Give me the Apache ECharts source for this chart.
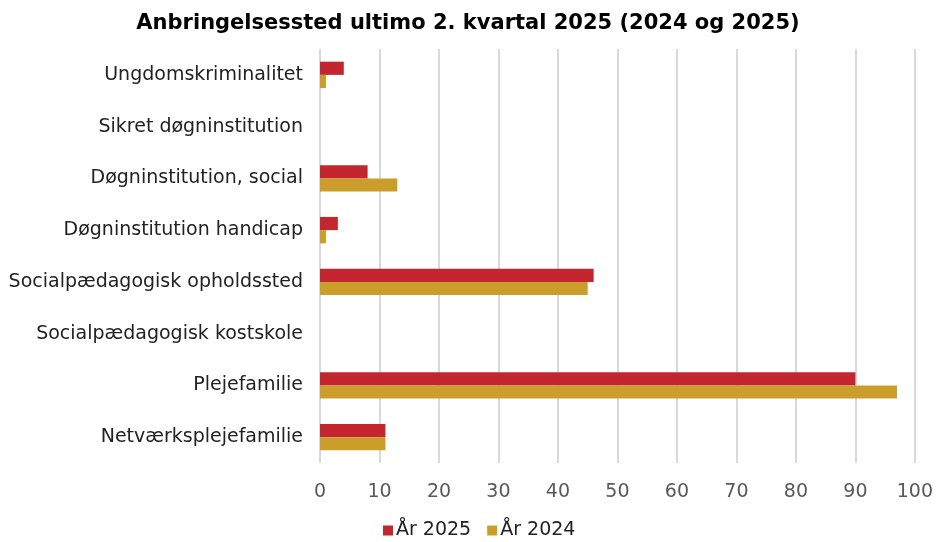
<!DOCTYPE html>
<html>
<head>
<meta charset="utf-8">
<script src="https://cdn.jsdelivr.net/npm/echarts@6/dist/echarts.min.js"></script>
<style>
  html, body { margin: 0; padding: 0; background: #fff; }
  #chart { width: 936px; height: 542px; }
</style>
</head>
<body>
<div id="chart"></div>
<script>
// kategorier, oppefra og ned
const categories = [
  'Ungdomskriminalitet',
  'Sikret døgninstitution',
  'Døgninstitution, social',
  'Døgninstitution handicap',
  'Socialpædagogisk opholdssted',
  'Socialpædagogisk kostskole',
  'Plejefamilie',
  'Netværksplejefamilie'
]
const values2025 = [4, 0, 8, 3, 46, 0, 90, 11]
const values2024 = [1, 0, 13, 1, 45, 0, 97, 11]

const chart = echarts.init(document.getElementById('chart'))
const font = '"DejaVu Sans", sans-serif'

chart.setOption({
  animation: false,
  textStyle: { fontFamily: font },
  title: {
    text: 'Anbringelsessted ultimo 2. kvartal 2025 (2024 og 2025)',
    left: 'center', top: 8,
    textStyle: { fontSize: 21, fontWeight: 'bold', color: '#000', fontFamily: font }
  },
  legend: {
    data: ['År 2025', 'År 2024'],
    top: 516, left: 378,
    icon: 'rect', itemWidth: 10, itemHeight: 10, itemGap: 16, itemStyle: { borderWidth: 0 },
    textStyle: { fontSize: 19, color: '#222', fontFamily: font, padding: [0, 0, 0, -2] }
  },
  grid: { left: 320, right: 20, top: 49, bottom: 79, containLabel: false },
  xAxis: {
    type: 'value', min: 0, max: 100, interval: 10,
    axisLine: { show: false },
    axisTick: { show: false },
    axisLabel: { color: '#595959', fontSize: 19, margin: 20, fontFamily: font },
    splitLine: { lineStyle: { color: '#d9d9d9', width: 2 } }
  },
  yAxis: {
    type: 'category', data: categories, inverse: true,
    axisLine: { show: false },
    axisTick: { show: false },
    axisLabel: { color: '#222', fontSize: 19, margin: 17, fontFamily: font }
  },
  series: [
    {
      name: 'År 2025', type: 'bar', data: values2025,
      barGap: '0%', barCategoryGap: '49%',
      itemStyle: { color: '#C3262E' }
    },
    {
      name: 'År 2024', type: 'bar', data: values2024,
      barGap: '0%', barCategoryGap: '49%',
      itemStyle: { color: '#CB9E2B' }
    }
  ]
})
</script>
</body>
</html>
